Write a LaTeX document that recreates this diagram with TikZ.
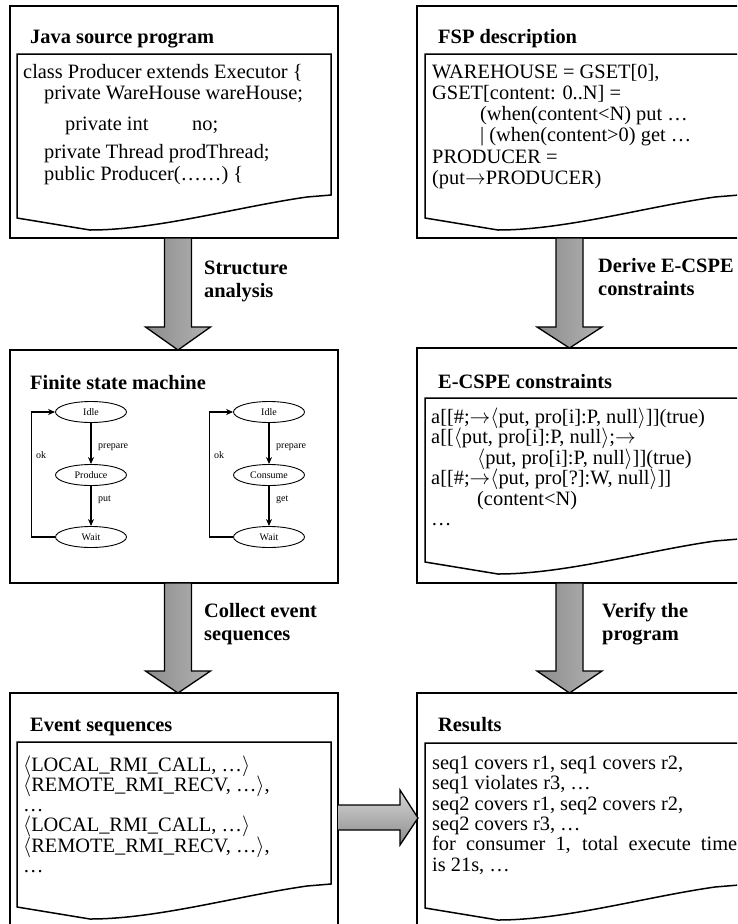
\documentclass[tikz,border=0pt]{standalone}
\usepackage{fontspec}
\setmainfont{Liberation Serif}
\usetikzlibrary{arrows.meta,shapes.geometric}

\tikzset{
 outerbox/.style={draw, line width=2pt},
 docshape/.style={draw, line width=1.5pt, fill=white},
 vshade/.style={draw, line width=1.3pt, left color=black!45, middle color=black!14, right color=black!30},
 hshade/.style={draw, line width=1.3pt, top color=black!16, bottom color=black!45},
 title/.style={anchor=base west, inner sep=0pt, text height=14pt, text depth=4pt, font=\fontsize{20.4}{24}\selectfont\bfseries},
 body/.style={anchor=base west, inner sep=0pt, text height=14pt, text depth=4pt, font=\fontsize{20.4}{24}\selectfont},
 state/.style={draw, ellipse, line width=0.9pt, minimum width=71pt, minimum height=21pt, inner sep=0pt, font=\fontsize{10}{12}\selectfont},
 small/.style={anchor=west, inner sep=0pt, font=\fontsize{10}{12}\selectfont},
 trans/.style={-{Stealth[length=7pt,width=6pt]}, line width=1.1pt},
}

\newcommand\myto{$\rightarrow$}

% document symbol: #1 left x, #2 top y, #3 right x, #4 bottom-left y
\newcommand\mydocpath[4]{%
 \draw[docshape] (#1,#2) -- (#3,#2) -- (#3,#4-23) -- (#3-24,#4-21)
   .. controls (#1+220,#4-11) and (#1+140,#4+12) .. (#1+73,#4+12) -- (#1,#4) -- cycle;}

% vertical block arrow: #1 centre x, #2 top y, #3 head start y, #4 tip y
\newcommand\myvarrow[4]{%
 \draw[vshade] (#1-13.5,#2) -- (#1+13.5,#2) -- (#1+13.5,#3) -- (#1+32.5,#3) -- (#1,#4)
   -- (#1-32.5,#3) -- (#1-13.5,#3) -- cycle;}

\begin{document}
\begin{tikzpicture}[x=1pt,y=-1pt]
\useasboundingbox (0,0) rectangle (737,924);
\clip (0,0) rectangle (737,924);
\fill[white] (0,0) rectangle (737,924);

% ---------- outer boxes ----------
\draw[outerbox] (10,6) rectangle (338,238);
\draw[outerbox] (417,6) rectangle (745,238);
\draw[outerbox] (10,350) rectangle (338,583);
\draw[outerbox] (417,348) rectangle (745,583);
\draw[outerbox] (10,693) rectangle (338,940);
\draw[outerbox] (417,693) rectangle (745,940);

% ---------- document shapes ----------
\mydocpath{17}{54}{331}{218}
\mydocpath{425}{54}{739}{218}
\mydocpath{425}{398}{739}{562}
\mydocpath{17}{742}{331}{907}
\mydocpath{425}{743}{739}{908}

% ---------- titles ----------
\node[title] (t1) at (30,43) {Java source program};
\node[title] (t2) at (438,43) {FSP description};
\node[title] (t3) at (30,389) {Finite state machine};
\node[title] (t4) at (438,388) {E-CSPE constraints};
\node[title] (t5) at (30,731) {Event sequences};
\node[title] (t6) at (438,731) {Results};

% ---------- Java source ----------
\node[body] (j1) at (23,78) {class Producer extends Executor \{};
\node[body] (j2) at (44,99) {private WareHouse wareHouse;};
\node[body] (j3) at (65,130) {private int};
\node[body] (j3b) at (192,130) {no;};
\node[body] (j4) at (44,158) {private Thread prodThread;};
\node[body] (j5) at (44,180) {public Producer(……) \{};

% ---------- FSP ----------
\node[body] (f1) at (432,78) {WAREHOUSE = GSET[0],};
\node[body] (f2) at (432,99) {GSET[content: 0..N] =};
\node[body] (f3) at (480,120) {(when(content<N) put …};
\node[body] (f4) at (480,141) {| (when(content>0) get …};
\node[body] (f5) at (432,163) {PRODUCER =};
\node[body] (f6) at (432,184) {(put\myto PRODUCER)};

% ---------- E-CSPE ----------
\node[body] (e1) at (431,423) {a[[\#;\myto$\langle$put, pro[i]:P, null$\rangle$]](true)};
\node[body] (e2) at (431,443.5) {a[[$\langle$put, pro[i]:P, null$\rangle$;\myto};
\node[body] (e3) at (477,464) {$\langle$put, pro[i]:P, null$\rangle$]](true)};
\node[body] (e4) at (431,484.5) {a[[\#;\myto$\langle$put, pro[?]:W, null$\rangle$]]};
\node[body] (e5) at (477,505) {(content<N)};
\node[body] (e6) at (431,525.5) {…};

% ---------- Event sequences ----------
\node[body] (s1) at (23,771) {$\langle$LOCAL\_RMI\_CALL, …$\rangle$};
\node[body] (s2) at (23,791) {$\langle$REMOTE\_RMI\_RECV, …$\rangle$,};
\node[body] (s3) at (23,811) {…};
\node[body] (s4) at (23,831.5) {$\langle$LOCAL\_RMI\_CALL, …$\rangle$};
\node[body] (s5) at (23,852) {$\langle$REMOTE\_RMI\_RECV, …$\rangle$,};
\node[body] (s6) at (23,872) {…};

% ---------- Results ----------
\node[body] (r1) at (432,769) {seq1 covers r1, seq1 covers r2,};
\node[body] (r2) at (432,789) {seq1 violates r3, …};
\node[body] (r3) at (432,810) {seq2 covers r1, seq2 covers r2,};
\node[body] (r4) at (432,830) {seq2 covers r3, …};
\node[body] (r5) at (432,850) {\makebox[305pt][s]{for consumer 1, total execute time}};
\node[body] (r6) at (432,871) {is 21s, …};

% ---------- finite state machines ----------
\node[state] (idle1) at (91,412) {Idle};
\node[state] (prod) at (91,475) {Produce};
\node[state] (wait1) at (91,537) {Wait};
\draw[trans] (idle1.south) -- (prod.north);
\draw[trans] (prod.south) -- (wait1.north);
\draw[trans] (wait1.west) -- ++(-24,0) |- (idle1.west);
\node[small] (lp1) at (98,447) {prepare};
\node[small] (lput) at (98,500) {put};
\node[small] (lok1) at (36,455) {ok};

\node[state] (idle2) at (269,412) {Idle};
\node[state] (cons) at (269,475) {Consume};
\node[state] (wait2) at (269,537) {Wait};
\draw[trans] (idle2.south) -- (cons.north);
\draw[trans] (cons.south) -- (wait2.north);
\draw[trans] (wait2.west) -- ++(-24,0) |- (idle2.west);
\node[small] (lp2) at (276,447) {prepare};
\node[small] (lget) at (276,500) {get};
\node[small] (lok2) at (214,455) {ok};

% ---------- block arrows ----------
\myvarrow{178}{238}{327}{350}
\myvarrow{178}{583}{671}{693}
\myvarrow{569.5}{238}{327}{348}
\myvarrow{569.5}{583}{671}{693}
\draw[hshade] (338,805) -- (400,805) -- (400,790) -- (418,818) -- (400,845) -- (400,830) -- (338,830);

% ---------- arrow labels ----------
\node[title] (a1) at (204,274) {Structure};
\node[title] (a1b) at (204,297) {analysis};
\node[title] (a2) at (598,272) {Derive E-CSPE};
\node[title] (a2b) at (598,295) {constraints};
\node[title] (a3) at (204,617) {Collect event};
\node[title] (a3b) at (204,640) {sequences};
\node[title] (a4) at (602,617) {Verify the};
\node[title] (a4b) at (602,640) {program};
\end{tikzpicture}
\end{document}
